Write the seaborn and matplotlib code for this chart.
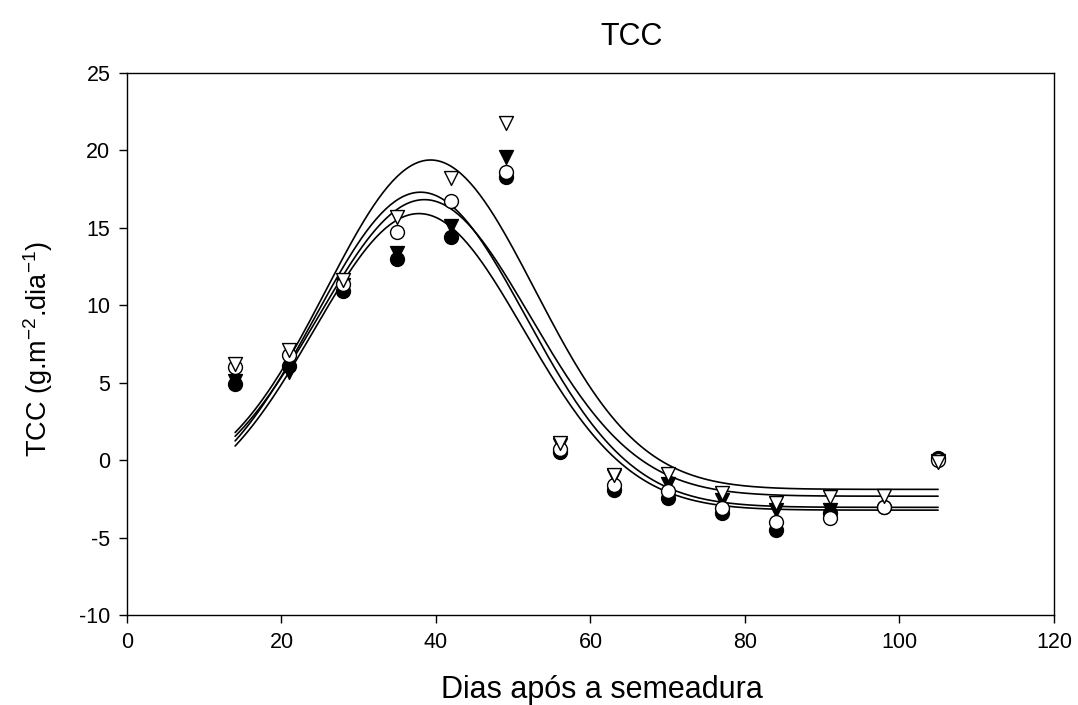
import numpy as np
import pandas as pd
import matplotlib
matplotlib.use("Agg")
import matplotlib.pyplot as plt
import seaborn as sns

# ---- data ----
days = [14, 21, 28, 35, 42, 49, 56, 63, 70, 77, 84, 91, 98, 105]

filled_circle = [4.9, 6.1, 10.9, 13.0, 14.4, 18.3, 0.55, -1.9, -2.45, -3.4, -4.5, -3.4, -3.0, 0.15]
filled_tri    = [5.1, 5.7, 11.3, 13.4, 15.1, 19.6, 1.0, -1.0, -1.55, -2.6, -3.2, -3.2, np.nan, -0.05]
open_circle   = [6.0, 6.8, 11.4, 14.7, 16.7, 18.6, 0.7, -1.6, -2.0, -3.1, -4.0, -3.75, -3.0, 0.0]
open_tri      = [6.2, 7.1, 11.6, 15.7, 18.2, 21.8, 1.1, -0.95, -0.9, -2.15, -2.8, -2.4, -2.3, -0.1]

# fitted peak-model parameters (baseline, amplitude, peak day, width) per series
fit_y0 = [-3.23, -2.33, -3.05, -1.89]
fit_a  = [19.15, 19.15, 20.35, 21.27]
fit_x0 = [37.8, 38.5, 38.0, 39.3]
fit_b  = [13.6, 13.7, 13.6, 13.5]
series_names = ["filled_circle", "filled_tri", "open_circle", "open_tri"]

# ---- build tables ----
values = [filled_circle, filled_tri, open_circle, open_tri]
pts = pd.concat([pd.DataFrame({"x": days, "y": v, "s": n}) for n, v in zip(series_names, values)])
xs = np.linspace(14, 105, 300)
curves = pd.concat([
    pd.DataFrame({"x": xs, "y": y0 + a * np.exp(-0.5 * ((xs - x0) / b) ** 2), "s": n})
    for n, y0, a, x0, b in zip(series_names, fit_y0, fit_a, fit_x0, fit_b)
])

sns.set_theme(style="white")
plt.rcParams["font.family"] = ["Liberation Sans", "DejaVu Sans"]
plt.rcParams["mathtext.default"] = "regular"
plt.rcParams["axes.unicode_minus"] = False

fig = plt.figure(figsize=(10.78, 7.05), dpi=100)
ax = fig.add_axes([0.1178, 0.1277, 0.8599, 0.7688])

for n in series_names:
    sns.lineplot(data=curves[curves.s == n], x="x", y="y", color="black",
                 linewidth=1.2, ax=ax, legend=False)

styles = {
    "filled_circle": dict(marker="o", facecolor="black"),
    "filled_tri": dict(marker="v", facecolor="black"),
    "open_circle": dict(marker="o", facecolor="white"),
    "open_tri": dict(marker="v", facecolor="white"),
}
for n in series_names:
    st = styles[n]
    d = pts[pts.s == n].dropna()
    sns.scatterplot(data=d, x="x", y="y", marker=st["marker"], color=st["facecolor"],
                    edgecolor="black", linewidth=1.0, s=100, ax=ax, legend=False, zorder=3)

ax.set_xlim(0, 120)
ax.set_ylim(-10, 25)
ax.set_xticks(range(0, 121, 20))
ax.set_yticks(range(-10, 26, 5))
for sp in ax.spines.values():
    sp.set_color("black")
    sp.set_linewidth(1.0)
ax.tick_params(axis="both", which="major", direction="out", length=6, width=1,
               color="black", labelsize=15.5, labelcolor="black", bottom=True, left=True,
               top=False, right=False, pad=6)

ax.set_xlabel("Dias após a semeadura", fontsize=22, color="black", labelpad=14)
ax.xaxis.set_label_coords(0.512, -0.11)
ax.set_ylabel("TCC (g.m$^{-2}$.dia$^{-1}$)", fontsize=19.5, color="black")
ax.yaxis.set_label_coords(-0.078, 0.49)
ax.set_title("TCC", fontsize=22, color="black", x=0.544, pad=20)

fig.savefig("out.png", dpi=100, facecolor="white")
